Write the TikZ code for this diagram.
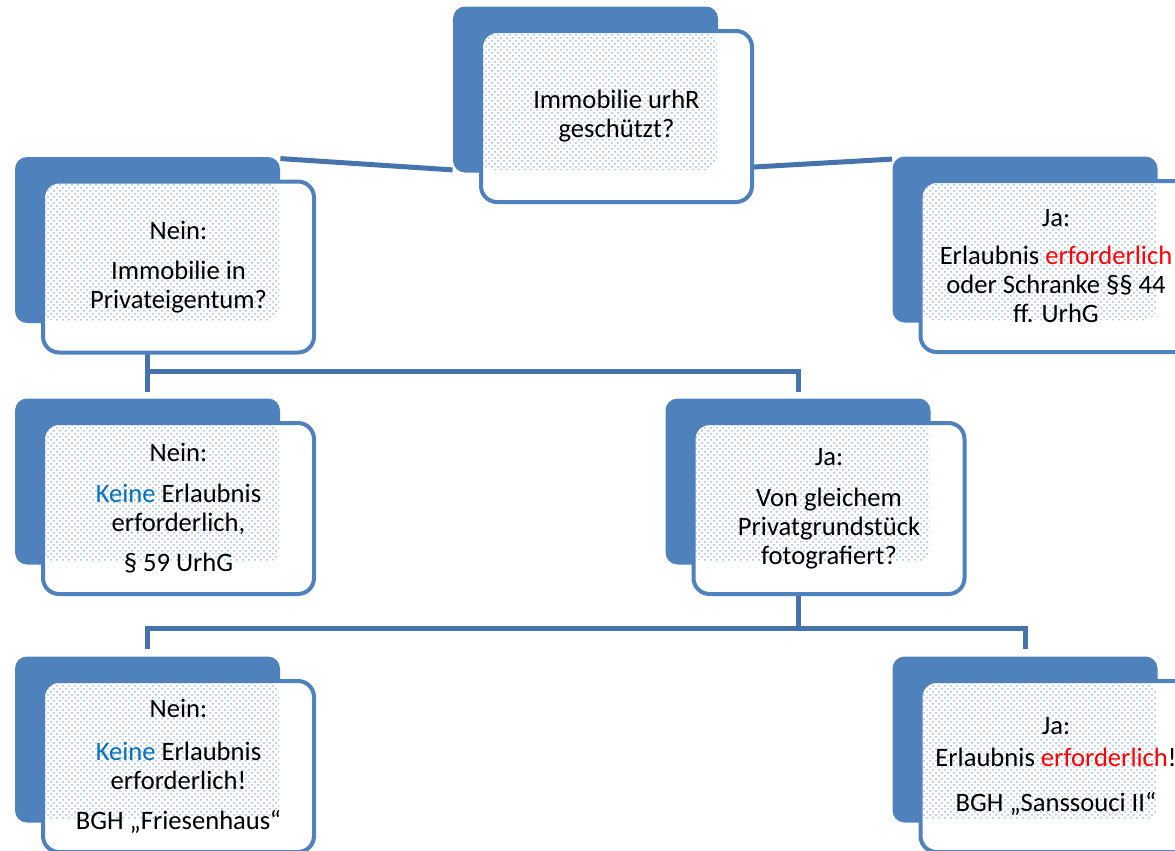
\documentclass[tikz,border=0pt]{standalone}
\usepackage{fontspec}
\setmainfont{Carlito}
\usetikzlibrary{calc,patterns,backgrounds}
\definecolor{BoxBlue}{HTML}{4F81BD}
\definecolor{LinkBlue}{HTML}{4673AC}
\definecolor{KeineBlue}{HTML}{0070C0}
\definecolor{ErfRed}{HTML}{FF0000}
\tikzset{
    back/.style = {rectangle, rounded corners=6pt, fill=BoxBlue,
        minimum width=132.5pt, minimum height=83pt},
    front/.style = {rectangle, rounded corners=8pt, draw=BoxBlue, line width=2pt,
        fill=white, minimum width=135.5pt, minimum height=85.5pt,
        align=center, font=\fontsize{13.3pt}{14.5pt}\selectfont,
        path picture={\fill[pattern=crosshatch dots, pattern color=BoxBlue!55, rounded corners=6pt]
            (path picture bounding box.north west) rectangle
            ([xshift=-17.5pt,yshift=16pt]path picture bounding box.south east);}},
    link/.style = {draw=LinkBlue, line width=2.5pt}
}
\begin{document}
\begin{tikzpicture}[x=0.5pt,y=-0.5pt]
    \useasboundingbox (0,0) rectangle (1175,851);
    % back boxes
    \node[back] (topb) at (585.5,89.5) {};
    \node[back] (l1b) at (147.5,240) {};
    \node[back] (r1b) at (1025,239.5) {};
    \node[back] (l2b) at (147.5,481.5) {};
    \node[back] (m2b) at (798,481.5) {};
    \node[back] (l3b) at (147.5,739.5) {};
    \node[back] (r3b) at (1025,739.5) {};
    % front boxes
    \node[front] (top) at ($(topb)+(31,27)$) {Immobilie urhR\\geschützt?};
    \node[front] (l1) at ($(l1b)+(31,27)$) {Nein:\\[5.5pt]Immobilie in\\Privateigentum?};
    \node[front] (r1) at ($(r1b)+(31,27)$) {Ja:\\[4.5pt]Erlaubnis \textcolor{ErfRed}{erforderlich}\\oder Schranke §§ 44\\ff. UrhG};
    \node[front] (l2) at ($(l2b)+(31,27)$) {Nein:\\[6pt]\textcolor{KeineBlue}{Keine} Erlaubnis\\erforderlich,\\[5.5pt]§ 59 UrhG};
    \node[front] (m2) at ($(m2b)+(31,27)$) {Ja:\\[6pt]Von gleichem\\Privatgrundstück\\fotografiert?};
    \node[front] (l3) at ($(l3b)+(31,27)$) {Nein:\\[7pt]\textcolor{KeineBlue}{Keine} Erlaubnis\\erforderlich!\\[5.5pt]BGH „Friesenhaus“};
    \node[front] (r3) at ($(r3b)+(31,27)$) {Ja:\\[1.5pt]Erlaubnis \textcolor{ErfRed}{erforderlich}!\\[8pt]BGH „Sanssouci II“};
    % connectors
    \begin{scope}[on background layer]
        \draw[link] ([yshift=-1pt]l1b.north east) -- ([yshift=1.5pt]topb.south west);
        \draw[link] ($(top.south east)+(0,-37)$) -- ($(r1b.north west)+(0,3)$);
        \coordinate (j1) at ($(l1b.south)+(0,48)$);
        \draw[link] (l1b.south) -- (j1) -| ([yshift=3pt]m2b.north);
        \draw[link] (j1) -- ([yshift=3pt]l2b.north);
        \coordinate (j2) at ($(m2b.south)+(0,64)$);
        \draw[link] (m2b.south) -- (j2) -| ([yshift=3.5pt]r3b.north);
        \draw[link] (j2) -| ([yshift=3.5pt]l3b.north);
    \end{scope}
\end{tikzpicture}
\end{document}
